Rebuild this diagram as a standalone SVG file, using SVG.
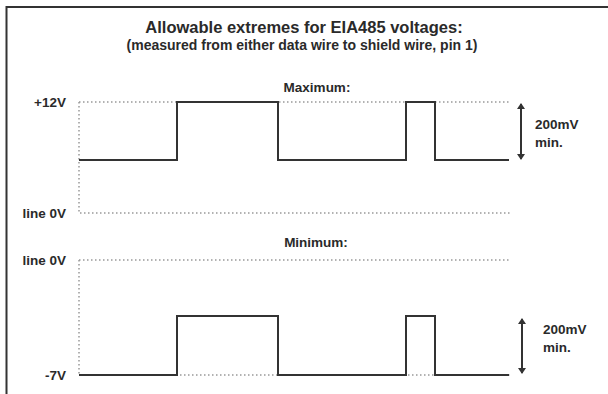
<svg xmlns="http://www.w3.org/2000/svg" width="608" height="394" viewBox="0 0 608 394">
<style>
text{font-family:"Liberation Sans",Arial,sans-serif;font-weight:bold;fill:#2a2a2a}
.t{font-size:16.5px}
.s{font-size:14px}
.l{font-size:13.5px}
.w{fill:none;stroke:#333;stroke-width:2}
.d{fill:none;stroke:#999;stroke-width:1.5;stroke-dasharray:1.5 2.5}
.a{stroke:#333;stroke-width:2}
</style>
<defs>
<marker id="ah" viewBox="0 0 6 8" refX="5" refY="4" markerWidth="3" markerHeight="4" orient="auto-start-reverse" markerUnits="strokeWidth">
<path d="M0,0 L6,4 L0,8 z" fill="#333"/>
</marker>
</defs>
<rect width="608" height="394" fill="#fff"/>
<path d="M6.5,394 V7 H608" fill="none" stroke="#333" stroke-width="2"/>
<g id="title">
<text class="t" x="304" y="33" text-anchor="middle">Allowable extremes for EIA485 voltages:</text>
<text class="s" x="302" y="50" text-anchor="middle">(measured from either data wire to shield wire, pin 1)</text>
</g>
<g id="labels">
<text class="l" x="317" y="92" text-anchor="middle">Maximum:</text>
<text class="l" x="66" y="107" text-anchor="end">+12V</text>
<text class="l" x="66" y="218" text-anchor="end">line 0V</text>
<text class="l" x="316" y="247" text-anchor="middle">Minimum:</text>
<text class="l" x="66" y="265" text-anchor="end">line 0V</text>
<text class="l" x="66" y="380" text-anchor="end">-7V</text>
<text class="l" x="535" y="129">200mV</text>
<text class="l" x="535" y="147">min.</text>
<text class="l" x="543" y="334">200mV</text>
<text class="l" x="543" y="352">min.</text>
</g>
<g id="connectors">
<path class="d" d="M79,102 H510 M79,102 V213 H510"/>
<path class="d" d="M79,260 H510 M79,260 V375 H510"/>
<path class="w" d="M79,160 H177 V102 H278 V160 H406 V102 H435 V160 H509"/>
<path class="w" d="M79,375 H177 V316 H278 V375 H406 V316 H435 V375 H509"/>
<line class="a" x1="521" y1="104" x2="521" y2="159" marker-start="url(#ah)" marker-end="url(#ah)"/>
<line class="a" x1="522" y1="319" x2="522" y2="373" marker-start="url(#ah)" marker-end="url(#ah)"/>
</g>
</svg>
